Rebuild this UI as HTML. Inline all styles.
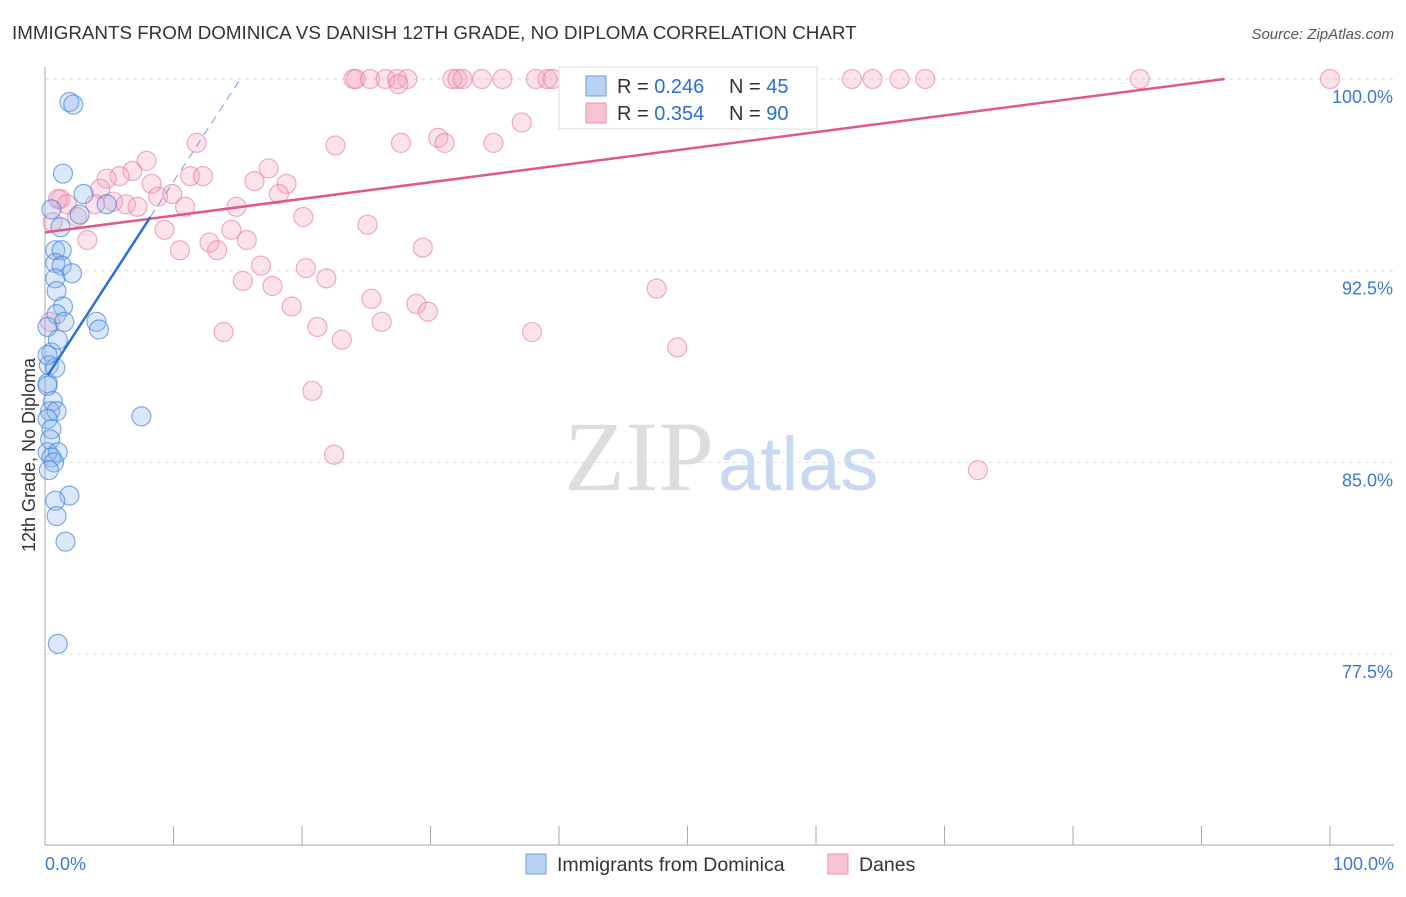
<!DOCTYPE html>
<html><head><meta charset="utf-8"><style>
body{margin:0;background:#fff;font-family:"Liberation Sans",sans-serif}
</style></head><body>
<svg id="c" width="1406" height="892" xmlns="http://www.w3.org/2000/svg">
<text x="12" y="39" font-size="18.8" fill="#333">IMMIGRANTS FROM DOMINICA VS DANISH 12TH GRADE, NO DIPLOMA CORRELATION CHART</text>
<text x="1394" y="39" font-size="15" fill="#555" text-anchor="end" font-style="italic">Source: ZipAtlas.com</text>
<text x="714" y="490" font-size="100" fill="#ddd" font-family="Liberation Serif,serif" text-anchor="end">ZIP</text>
<text x="718" y="490" font-size="76" fill="#c8d8f0">atlas</text>
<g id="grid"></g><g id="axes"></g><g id="pts"></g><g id="lines"></g>
<text transform="translate(35,455) rotate(-90)" font-size="18" fill="#333" text-anchor="middle">12th Grade, No Diploma</text>
<text x="45" y="870" font-size="18" fill="#3a78d8">0.0%</text>
<text x="1394" y="870" font-size="18" fill="#3a78d8" text-anchor="end">100.0%</text>
<g>
<rect x="559" y="67" width="258" height="62" fill="#fff" stroke="#ddd"/>
<rect x="586" y="76" width="20" height="20" fill="#b8d2f4" stroke="#6a9ee6"/>
<rect x="586" y="103" width="20" height="20" fill="#f8c4d4" stroke="#e890ae"/>
<text x="617" y="93" font-size="20" fill="#333">R = <tspan fill="#2a6fd6">0.246</tspan></text>
<text x="729" y="93" font-size="20" fill="#333">N = <tspan fill="#2a6fd6">45</tspan></text>
<text x="617" y="120" font-size="20" fill="#333">R = <tspan fill="#2a6fd6">0.354</tspan></text>
<text x="729" y="120" font-size="20" fill="#333">N = <tspan fill="#2a6fd6">90</tspan></text>
</g>
<g>
<rect x="526" y="854" width="20" height="20" fill="#b8d2f4" stroke="#6a9ee6"/>
<text x="557" y="871" font-size="19.5" fill="#333">Immigrants from Dominica</text>
<rect x="828" y="854" width="20" height="20" fill="#f8c4d4" stroke="#e890ae"/>
<text x="859" y="871" font-size="19.5" fill="#333">Danes</text>
</g>
</svg>
<script>
const yTicks=[100,92.5,85,77.5];
const yTickLabels=["100.0%","92.5%","85.0%","77.5%"];
const blueX=[1.9,2.2,1.4,3.0,4.8,1.2,0.8,1.3,0.8,1.3,2.1,0.8,0.9,1.4,0.9,1.5,4.0,4.2,0.2,0.5,0.3,0.8,0.2,0.6,0.4,0.9,0.2,0.5,0.4,0.2,1.0,0.5,0.7,1.9,0.8,0.9,1.6,1.0,7.5,0.2,0.2,1.0,2.7,0.5,0.3];
const blueY=[99.1,99.0,96.3,95.5,95.1,94.2,93.3,93.3,92.8,92.7,92.4,92.2,91.7,91.1,90.8,90.5,90.5,90.2,90.3,89.3,88.8,88.7,88.1,87.4,87.0,87.0,86.7,86.3,85.9,85.4,85.4,85.2,85.0,83.7,83.5,82.9,81.9,77.9,86.8,88.0,89.2,89.8,94.7,94.9,84.7];
const pinkX=[24.0,24.2,25.3,26.5,27.4,28.2,31.7,32.1,32.5,34.0,35.6,38.2,39.1,39.5,43.4,45.5,52.1,54.5,59.1,62.8,64.4,66.5,68.5,85.2,100,27.5,54.2,41.5,37.1,11.8,22.6,27.7,30.6,31.1,34.9,7.9,6.8,5.8,4.8,4.3,8.3,11.3,12.3,17.4,16.3,18.8,18.2,1.2,1.7,3.9,5.3,6.3,7.2,8.8,9.9,10.9,14.9,20.1,25.1,0.6,3.3,9.3,10.5,12.8,13.4,14.5,15.7,29.4,16.8,20.3,15.4,17.7,21.9,19.2,25.4,28.9,29.8,26.2,21.2,23.1,13.9,0.4,37.9,49.2,47.6,20.8,22.5,72.6,2.5,1.0];
const pinkY=[100,100,100,100,100,100,100,100,100,100,100,100,100,100,100,100,100,100,100,100,100,100,100,100,100,99.8,98.9,98.5,98.3,97.5,97.4,97.5,97.7,97.5,97.5,96.8,96.4,96.2,96.1,95.7,95.9,96.2,96.2,96.5,96.0,95.9,95.5,95.3,95.1,95.1,95.2,95.1,95.0,95.4,95.5,95.0,95.0,94.6,94.3,94.4,93.7,94.1,93.3,93.6,93.3,94.1,93.7,93.4,92.7,92.6,92.1,91.9,92.2,91.1,91.4,91.2,90.9,90.5,90.3,89.8,90.1,90.5,90.1,89.5,91.8,87.8,85.3,84.7,94.6,95.3];
const pinkTrend=[0,91.8], pinkTrendY=[94.0,100];
const blueTrend=[0.2,8.2], blueTrendY=[88.4,94.6], blueDash=[8.2,15.2], blueDashY=[94.6,100];
const NS="http://www.w3.org/2000/svg";
const X0=45,X1=1330,YTOP=79,PER=25.56;
const sx=v=>X0+v*(X1-X0)/100, sy=v=>YTOP+(100-v)*PER;
function mk(t,a,p){const e=document.createElementNS(NS,t);for(const k in a)e.setAttribute(k,a[k]);p.appendChild(e);return e;}
const grid=document.getElementById('grid'),axes=document.getElementById('axes'),pts=document.getElementById('pts'),lines=document.getElementById('lines');
yTicks.forEach((v,i)=>{
 const l=mk('line',{x1:X0,x2:1394,y1:sy(v),y2:sy(v),stroke:'#ddd','stroke-dasharray':'4,4'},grid);
 
 
 const t=mk('text',{x:1393,y:sy(v)+24,'font-size':18,fill:'#3a78d8','text-anchor':'end'},grid);t.textContent=yTickLabels[i];
 
 
});
const ax=mk('line',{x1:X0,x2:X0,y1:67,y2:845,stroke:'#aaa'},axes);


const bx=mk('line',{x1:X0,x2:1394,y1:845,y2:845,stroke:'#aaa'},axes);


for(let i=0;i<=10;i++){const t=mk('line',{x1:sx(i*10),x2:sx(i*10),y1:826,y2:845,stroke:'#aaa'},axes);
 
 }
pinkX.forEach((x,i)=>{const c=mk('circle',{cx:sx(x),cy:sy(pinkY[i]),r:9.5,fill:'rgba(244,160,188,0.3)',stroke:'rgba(230,120,160,0.6)','stroke-width':1.2},pts);
 
 });
blueX.forEach((x,i)=>{const c=mk('circle',{cx:sx(x),cy:sy(blueY[i]),r:9.5,fill:'rgba(140,180,236,0.3)',stroke:'rgba(60,130,220,0.65)','stroke-width':1.2},pts);
 
 });
const pl=mk('line',{x1:sx(pinkTrend[0]),y1:sy(pinkTrendY[0]),x2:sx(pinkTrend[1]),y2:sy(pinkTrendY[1]),stroke:'#e0588a','stroke-width':2.5},lines);


const bl=mk('line',{x1:sx(blueTrend[0]),y1:sy(blueTrendY[0]),x2:sx(blueTrend[1]),y2:sy(blueTrendY[1]),stroke:'#2a6fd6','stroke-width':2.5},lines);


const bd=mk('line',{x1:sx(blueDash[0]),y1:sy(blueDashY[0]),x2:sx(blueDash[1]),y2:sy(blueDashY[1]),stroke:'#6a9ee6','stroke-width':1,'stroke-dasharray':'8,6'},lines);


</script>
</body></html>
